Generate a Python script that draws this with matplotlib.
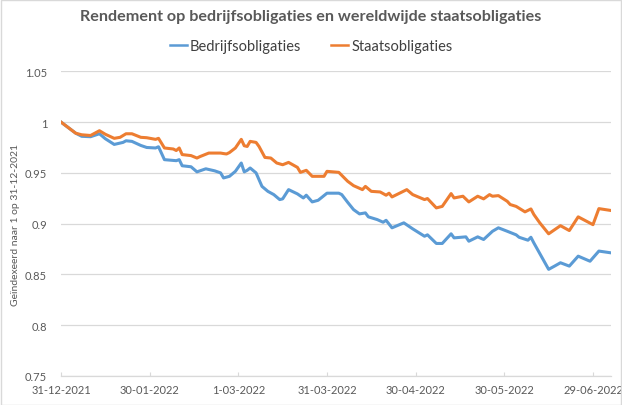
import datetime as dt
import matplotlib
matplotlib.use("Agg")
import matplotlib.pyplot as plt
from matplotlib.patches import Rectangle

start = dt.date(2021, 12, 31)

# days after 31-12-2021 and index values
bedrijf_days = [0, 5, 7, 10, 13, 15, 18, 21, 22, 24, 27, 29, 32, 33, 35, 39, 40, 41, 44, 46,
                49, 52, 54, 55, 57, 59, 61, 62, 63, 64, 66, 68, 70, 72, 74, 75, 77, 80, 82, 83,
                85, 87, 88, 90, 94, 95, 97, 99, 101, 103, 104, 107, 109, 110, 112, 116, 119, 123,
                124, 127, 129, 132, 133, 137, 138, 141, 143, 146, 148, 151, 154, 155, 158, 159,
                160, 162, 165, 167, 169, 172, 175, 179, 182, 186]
bedrijf = [1.000, 0.989, 0.986, 0.9856, 0.9885, 0.9836, 0.978, 0.980, 0.9816, 0.981, 0.977,
           0.975, 0.9745, 0.9757, 0.963, 0.962, 0.963, 0.957, 0.956, 0.951, 0.954, 0.952, 0.950,
           0.945, 0.9466, 0.9515, 0.9597, 0.951, 0.9525, 0.9548, 0.950, 0.9367, 0.9318, 0.9286,
           0.9237, 0.9244, 0.9335, 0.9293, 0.9253, 0.928, 0.9214, 0.923, 0.9253, 0.930, 0.930,
           0.9286, 0.921, 0.9138, 0.9096, 0.9106, 0.9067, 0.904, 0.9014, 0.9033, 0.8959, 0.9008,
           0.8949, 0.8876, 0.889, 0.8805, 0.8805, 0.890, 0.886, 0.887, 0.8827, 0.887, 0.8844,
           0.8925, 0.8959, 0.8925, 0.889, 0.8866, 0.8837, 0.8866, 0.881, 0.8706, 0.855, 0.8582,
           0.8615, 0.8582, 0.868, 0.863, 0.873, 0.8713]

staat_days = [0, 5, 7, 10, 13, 15, 18, 20, 22, 24, 27, 29, 32, 33, 35, 38, 39, 40, 41, 44, 46,
              47, 50, 54, 55, 56, 57, 59, 61, 62, 63, 64, 66, 67, 69, 71, 73, 75, 77, 80, 81,
              83, 85, 89, 90, 94, 97, 99, 102, 103, 105, 108, 110, 111, 112, 117, 119, 123, 124,
              127, 129, 132, 133, 136, 138, 141, 143, 145, 146, 148, 151, 152, 154, 157, 159,
              160, 162, 165, 169, 172, 175, 180, 182, 186]
staat = [1.000, 0.989, 0.9875, 0.9868, 0.9915, 0.988, 0.984, 0.985, 0.9885, 0.9885, 0.985,
         0.9846, 0.983, 0.984, 0.9745, 0.9735, 0.972, 0.9745, 0.968, 0.967, 0.9646, 0.966,
         0.9695, 0.9695, 0.969, 0.9686, 0.970, 0.9745, 0.983, 0.9767, 0.976, 0.981, 0.980,
         0.976, 0.9652, 0.9646, 0.9597, 0.958, 0.9603, 0.9554, 0.9505, 0.9525, 0.9466, 0.9466,
         0.9515, 0.9505, 0.9417, 0.9374, 0.9335, 0.9367, 0.9318, 0.9312, 0.928, 0.930, 0.9263,
         0.9335, 0.9286, 0.9237, 0.9247, 0.9155, 0.917, 0.9296, 0.9253, 0.927, 0.9214, 0.927,
         0.9244, 0.9286, 0.927, 0.9276, 0.922, 0.9188, 0.917, 0.9116, 0.9145, 0.909, 0.9008,
         0.890, 0.898, 0.8932, 0.9067, 0.899, 0.9148, 0.913]

tick_days = [0, 30, 60, 90, 120, 150, 180]
y_ticks = [0.75, 0.8, 0.85, 0.9, 0.95, 1.0, 1.05]

plt.rcParams["font.family"] = ["Lato", "DejaVu Sans"]
grey = "#595959"
gridc = "#D9D9D9"

fig = plt.figure(figsize=(6.22, 4.06), dpi=100)
ax = fig.add_axes([61 / 622, 1 - 377 / 406, (610.7 - 61) / 622, (377 - 72.3) / 406])

bd = [start + dt.timedelta(days=d) for d in bedrijf_days]
sd = [start + dt.timedelta(days=d) for d in staat_days]
ax.plot(bd, bedrijf, color="#5B9BD5", lw=2.2, label="Bedrijfsobligaties", solid_joinstyle="round")
ax.plot(sd, staat, color="#ED7D31", lw=2.2, label="Staatsobligaties", solid_joinstyle="round")

ax.set_xlim(start, start + dt.timedelta(days=186))
ax.set_ylim(0.75, 1.05)
ax.set_yticks(y_ticks)
ax.set_yticklabels([f"{v:g}" for v in y_ticks])
ticks = [start + dt.timedelta(days=d) for d in tick_days]
ax.set_xticks(ticks)
ax.set_xticklabels([f"{d.day}-{d:%m-%Y}" for d in ticks])

ax.grid(axis="y", color=gridc, lw=0.9)
ax.set_axisbelow(True)
for s in ["top", "right", "left"]:
    ax.spines[s].set_visible(False)
ax.spines["bottom"].set_color(gridc)
ax.spines["bottom"].set_linewidth(0.9)
ax.tick_params(axis="y", length=0, labelsize=8, labelcolor=grey, pad=10)
ax.tick_params(axis="x", direction="in", length=3, color=gridc, labelsize=8, labelcolor=grey, pad=6)

fig.text(0.5, 1 - 17 / 406, "Rendement op bedrijfsobligaties en wereldwijde staatsobligaties",
         ha="center", va="center", fontsize=11.6, fontweight="bold", color=grey)
fig.legend(loc="center", bbox_to_anchor=(0.5, 1 - 47 / 406), ncol=2, frameon=False,
           fontsize=10.5, handlelength=1.2, handletextpad=0.2, columnspacing=2.0,
           labelcolor="#404040")
for line in fig.legends[0].get_lines():
    line.set_linewidth(1.8)
fig.text(16 / 622, 1 - 225 / 406, "Geïndexeerd naar 1 op 31-12-2021", rotation=90,
         ha="center", va="center", fontsize=7.5, color=grey)

fig.add_artist(Rectangle((0.001, 0.001), 0.997, 0.997, transform=fig.transFigure,
                         fill=False, edgecolor=gridc, lw=1))

fig.savefig("out.png", dpi=100)
